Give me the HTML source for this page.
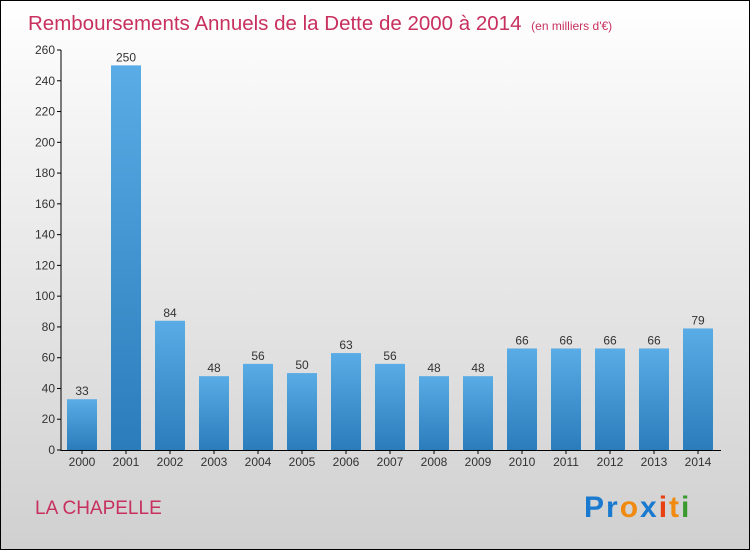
<!DOCTYPE html>
<html><head><meta charset="utf-8"><style>
body{margin:0}
#c{width:748px;height:548px;border:1px solid #000;background:linear-gradient(#fff,#f0f0f0 30%,#d0d0d0);position:relative;font-family:"Liberation Sans",sans-serif;overflow:hidden}
svg{position:absolute;left:-1px;top:-1px}
</style></head><body>
<div id="c">
<svg id="s" width="750" height="550">
<defs><linearGradient id="g" x1="0" y1="0" x2="0" y2="1"><stop offset="0" stop-color="#5aace6"/><stop offset="1" stop-color="#2a7cbb"/></linearGradient></defs>
<text x="28" y="30" font-size="20.5" fill="#c8305f">Remboursements Annuels de la Dette de 2000 à 2014 <tspan font-size="12" dx="4">(en milliers d'€)</tspan></text>
<text x="35" y="514" font-size="19" fill="#c8305f">LA CHAPELLE</text>
<text x="584" y="517" font-size="30" font-weight="bold" letter-spacing="2"><tspan fill="#1a7ad0">Pr</tspan><tspan fill="#f08a10">o</tspan><tspan fill="#1a7ad0">x</tspan><tspan fill="#e84010">i</tspan><tspan fill="#f08a10">t</tspan><tspan fill="#3a9a30">i</tspan></text>
<g id="ax"></g><g id="bars"></g>
</svg></div>
<script>
const years=["2000","2001","2002","2003","2004","2005","2006","2007","2008","2009","2010","2011","2012","2013","2014"];
const values=[33,250,84,48,56,50,63,56,48,48,66,66,66,66,79];
const ticks=[0,20,40,60,80,100,120,140,160,180,200,220,240,260];
const NS="http://www.w3.org/2000/svg";
const y=v=>450-v*400/260, x=i=>82+i*44;
const ax=document.getElementById('ax'),bg=document.getElementById('bars');
function mk(t,a,p){const e=document.createElementNS(NS,t);for(const k in a)e.setAttribute(k,a[k]);p.appendChild(e);return e;}
let l=mk('line',{x1:61,y1:50,x2:61,y2:451,stroke:'#000'},ax);


l=mk('line',{x1:61,y1:450.5,x2:721,y2:450.5,stroke:'#000'},ax);


ticks.forEach(t=>{mk('line',{x1:57,x2:61,y1:y(t),y2:y(t),stroke:'#000'},ax);
const e=mk('text',{x:55,y:y(t)+4,'text-anchor':'end','font-size':12,fill:'#333'},ax);e.textContent=t;

});
years.forEach((yr,i)=>{
const r=mk('rect',{x:x(i)-15,y:y(values[i]),width:30,height:450-y(values[i]),fill:'url(#g)'},bg);


const v=mk('text',{x:x(i),y:y(values[i])-4,'text-anchor':'middle','font-size':12,fill:'#333'},bg);v.textContent=values[i];


const t=mk('text',{x:x(i),y:466,'text-anchor':'middle','font-size':12,fill:'#333'},bg);t.textContent=yr;


mk('line',{x1:x(i),x2:x(i),y1:450,y2:454,stroke:'#000'},ax);
});
</script>
</body></html>
